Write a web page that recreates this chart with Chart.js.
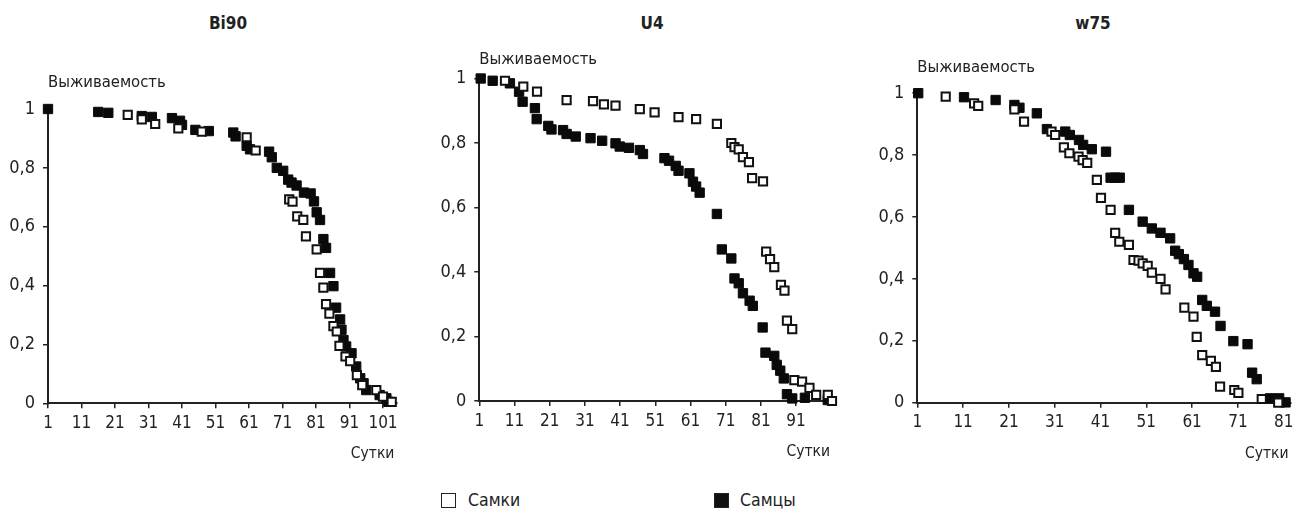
<!DOCTYPE html>
<html>
<head>
<meta charset="utf-8">
<script src="https://cdn.jsdelivr.net/npm/chart.js@4.4.1/dist/chart.umd.min.js"></script>
<style>
  body { margin: 0; background: #fff; width: 1300px; height: 524px; position: relative; overflow: hidden;
         font-family: 'DejaVu Sans Condensed', 'DejaVu Sans', sans-serif; color: #222; }
  canvas { position: absolute; top: 0; }
  .ttl { position: absolute; top: 13px; font-weight: bold; font-size: 17px; transform: translateX(-50%); }
  .leg { position: absolute; top: 491px; font-size: 17.5px; line-height: 18px; }
  .box { position: absolute; width: 13px; height: 13px; border: 1px solid #222; top: 493px; }
</style>
</head>
<body>
<div class="ttl" style="left:228px">Bi90</div>
<div class="ttl" style="left:652px">U4</div>
<div class="ttl" style="left:1093px">w75</div>

<canvas id="c1" width="440" height="480" style="left:0px"></canvas>
<canvas id="c2" width="440" height="480" style="left:430px"></canvas>
<canvas id="c3" width="430" height="480" style="left:870px"></canvas>

<div class="box" style="left:441px;background:#fff"></div>
<div class="leg" style="left:468px">Самки</div>
<div class="box" style="left:714px;background:#111"></div>
<div class="leg" style="left:740px">Самцы</div>

<script>
// ---- data (days / survival) ----
var yTicks = [0, 0.2, 0.4, 0.6, 0.8, 1];

var bi90Ticks = [1, 11, 21, 31, 41, 51, 61, 71, 81, 91, 101];
var bi90FemaleDays = [24.8, 29, 33, 39.9, 46.9, 60.3, 63, 73, 74, 75.4, 77.2, 78, 81.2, 82.2, 83.2, 84, 85, 86.2, 87.2, 88, 89.8, 91.2, 93.2, 94.8, 99, 101, 103.6];
var bi90FemaleSurv = [0.98, 0.965, 0.949, 0.934, 0.923, 0.904, 0.859, 0.693, 0.685, 0.635, 0.623, 0.567, 0.523, 0.443, 0.393, 0.337, 0.305, 0.262, 0.244, 0.195, 0.159, 0.143, 0.096, 0.062, 0.045, 0.023, 0.005];
var bi90MaleDays = [1, 16, 19, 29, 32, 38, 40.4, 41, 45, 49, 56.3, 57, 60.3, 61.3, 67, 67.8, 69.3, 71.2, 72.7, 73.7, 75.2, 77.4, 79.4, 80.4, 81.2, 82.2, 83.2, 84, 85.2, 86.2, 87, 88.2, 88.6, 89.2, 90, 91.6, 93, 94.2, 95.2, 96, 100, 102, 102.6];
var bi90MaleSurv = [1, 0.99, 0.987, 0.976, 0.973, 0.969, 0.96, 0.946, 0.929, 0.925, 0.92, 0.907, 0.875, 0.863, 0.855, 0.836, 0.8, 0.79, 0.76, 0.75, 0.74, 0.716, 0.713, 0.686, 0.649, 0.623, 0.558, 0.528, 0.443, 0.398, 0.325, 0.285, 0.25, 0.215, 0.193, 0.17, 0.125, 0.085, 0.068, 0.045, 0.028, 0.017, 0.005];

var u4Ticks = [1, 11, 21, 31, 41, 51, 61, 71, 81, 91];
var u4FemaleDays = [8.3, 13.5, 17.4, 25.8, 33.3, 36.4, 39.7, 46.6, 50.8, 57.6, 62.6, 68.5, 72.6, 73.5, 74.7, 75.9, 77.6, 78.5, 81.6, 82.5, 83.6, 84.8, 86.7, 87.7, 88.4, 89.9, 90.5, 92.7, 94.8, 96.7, 100, 101.2];
var u4FemaleSurv = [0.993, 0.975, 0.959, 0.933, 0.93, 0.92, 0.916, 0.905, 0.895, 0.88, 0.874, 0.859, 0.8, 0.787, 0.78, 0.756, 0.741, 0.691, 0.681, 0.463, 0.44, 0.415, 0.36, 0.342, 0.249, 0.223, 0.065, 0.06, 0.041, 0.019, 0.019, 0];
var u4MaleDays = [1.4, 4.8, 9.7, 12.3, 13.3, 16.8, 17.3, 20.6, 21.5, 24.8, 25.8, 28.4, 32.6, 35.9, 39.7, 40.9, 43.5, 46.6, 47.5, 53.6, 54.9, 56.8, 57.6, 60.7, 61.7, 62.6, 63.6, 68.5, 69.9, 72.6, 73.5, 74.7, 75.9, 77.8, 78.7, 81.5, 82.3, 84.8, 85.5, 86.5, 87.5, 88.4, 89.9, 93.5, 100];
var u4MaleSurv = [1, 0.993, 0.985, 0.959, 0.928, 0.908, 0.874, 0.853, 0.842, 0.84, 0.828, 0.82, 0.815, 0.807, 0.799, 0.789, 0.785, 0.778, 0.766, 0.753, 0.745, 0.729, 0.714, 0.706, 0.68, 0.665, 0.646, 0.58, 0.47, 0.442, 0.38, 0.365, 0.334, 0.311, 0.295, 0.228, 0.15, 0.14, 0.112, 0.094, 0.07, 0.021, 0.008, 0.01, 0.003];

var w75Ticks = [1, 11, 21, 31, 41, 51, 61, 71, 81];
var w75FemaleDays = [7.2, 13.4, 14.3, 22.2, 24.3, 30.3, 31.1, 33, 34.2, 36.2, 37.1, 38.1, 40.2, 41.1, 43.2, 44.2, 45.1, 47.2, 48.2, 49.3, 50.2, 51.3, 52.2, 54.1, 55.2, 59.3, 61.3, 62, 63.2, 65.1, 66.2, 67.1, 70.2, 71.1, 76.2, 79.8];
var w75FemaleSurv = [0.989, 0.967, 0.959, 0.948, 0.908, 0.876, 0.865, 0.825, 0.806, 0.795, 0.784, 0.775, 0.72, 0.662, 0.623, 0.549, 0.52, 0.51, 0.461, 0.459, 0.45, 0.442, 0.42, 0.4, 0.366, 0.307, 0.278, 0.213, 0.154, 0.135, 0.116, 0.052, 0.041, 0.032, 0.012, 0];
var w75MaleDays = [1.2, 11.2, 18.1, 22.2, 23.3, 27.1, 29.3, 33.3, 34.3, 36.3, 37.2, 39.1, 42.2, 43.2, 44.2, 45.2, 47.2, 50.2, 52.2, 54.1, 56.2, 57.3, 58.1, 59.2, 60.2, 61.3, 62.1, 63.2, 64.2, 66, 67.2, 70, 73.1, 74.1, 75.1, 78, 80, 81.4];
var w75MaleSurv = [1, 0.987, 0.978, 0.962, 0.953, 0.935, 0.884, 0.876, 0.865, 0.849, 0.833, 0.819, 0.811, 0.727, 0.727, 0.727, 0.623, 0.585, 0.563, 0.549, 0.531, 0.491, 0.48, 0.464, 0.445, 0.418, 0.407, 0.332, 0.313, 0.294, 0.248, 0.199, 0.189, 0.097, 0.076, 0.014, 0.014, 0.001];

var FONT = "'DejaVu Sans Condensed', 'DejaVu Sans', sans-serif";
var INK = '#222';

function pts(days, surv) {
    return days.map(function (d, i) { return { x: d, y: surv[i] }; });
}

// axis captions: "Выживаемость" over the y axis, "Сутки" under the right end of x
var captions = {
    id: 'captions',
    afterDraw: function (chart, args, opts) {
        var ctx = chart.ctx, a = chart.chartArea;
        ctx.save();
        ctx.fillStyle = INK;
        ctx.textBaseline = 'middle';
        ctx.textAlign = 'left';
        ctx.font = '16.5px ' + FONT;
        ctx.fillText('Выживаемость', a.left, a.top - opts.yGap);
        ctx.textAlign = 'right';
        ctx.font = '15.5px ' + FONT;
        ctx.fillText('Сутки', a.right - 2, a.bottom + 51);
        ctx.restore();
    }
};

function makePanel(id, fDays, fSurv, mDays, mSurv, xTicks, xMax, yWidth, pad, yGap) {
    new Chart(document.getElementById(id), {
        type: 'scatter',
        data: {
            datasets: [
                {
                    label: 'Самки',
                    data: pts(fDays, fSurv),
                    pointStyle: 'rect',
                    pointRadius: 5.8,
                    pointBackgroundColor: '#fff',
                    pointBorderColor: '#111',
                    pointBorderWidth: 2,
                    clip: false
                },
                {
                    label: 'Самцы',
                    data: pts(mDays, mSurv),
                    pointStyle: 'rect',
                    pointRadius: 6.6,
                    pointBackgroundColor: '#0a0a0a',
                    pointBorderColor: '#0a0a0a',
                    pointBorderWidth: 1,
                    clip: false
                }
            ]
        },
        options: {
            responsive: false,
            animation: false,
            events: [],
            layout: { padding: pad },
            plugins: {
                legend: { display: false },
                tooltip: { enabled: false },
                captions: { yGap: yGap }
            },
            scales: {
                x: {
                    type: 'linear',
                    min: 1,
                    max: xMax,
                    afterBuildTicks: function (s) { s.ticks = xTicks.map(function (v) { return { value: v }; }); },
                    afterFit: function (s) { s.height = 40; },
                    ticks: { autoSkip: false, maxRotation: 0, color: INK, padding: 5, font: { family: FONT, size: 17 } },
                    grid: { drawOnChartArea: false, drawTicks: true, tickLength: 5, color: INK, lineWidth: 1.5 },
                    border: { display: true, color: INK, width: 2 }
                },
                y: {
                    min: 0,
                    max: 1,
                    afterBuildTicks: function (s) { s.ticks = yTicks.map(function (v) { return { value: v }; }); },
                    afterFit: function (s) { s.width = yWidth; },
                    ticks: {
                        color: INK, padding: 8, font: { family: FONT, size: 18 },
                        callback: function (v) { return String(v).replace('.', ','); }
                    },
                    grid: { drawOnChartArea: false, drawTicks: true, tickLength: 5, color: INK, lineWidth: 1.5 },
                    border: { display: true, color: INK, width: 2 }
                }
            }
        },
        plugins: [captions]
    });
}

makePanel('c1', bi90FemaleDays, bi90FemaleSurv, bi90MaleDays, bi90MaleSurv, bi90Ticks, 105, 48,
    { left: 0, top: 109, right: 43.6, bottom: 36.7 }, 26);
makePanel('c2', u4FemaleDays, u4FemaleSurv, u4MaleDays, u4MaleSurv, u4Ticks, 101.2, 49.3,
    { left: 0, top: 78.5, right: 38, bottom: 39 }, 19);
makePanel('c3', w75FemaleDays, w75FemaleSurv, w75MaleDays, w75MaleSurv, w75Ticks, 82.5, 47.3,
    { left: 0, top: 93.2, right: 9.4, bottom: 37.3 }, 25);
</script>
</body>
</html>
